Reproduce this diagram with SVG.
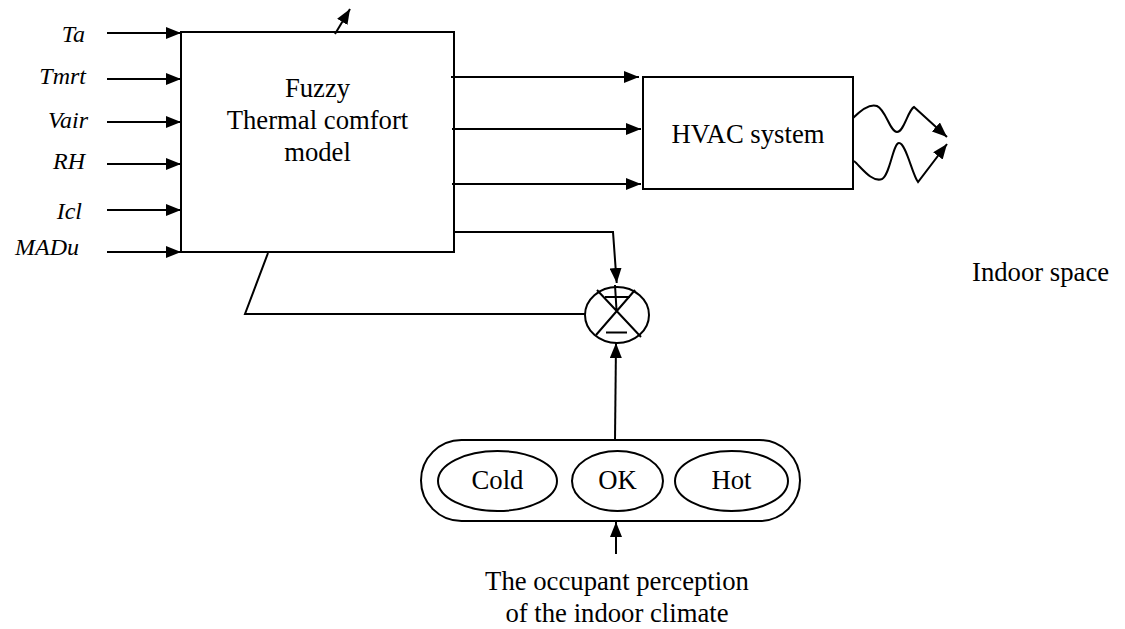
<svg xmlns="http://www.w3.org/2000/svg" width="1125" height="629" viewBox="0 0 1125 629">
<defs>
<marker id="ah" markerUnits="userSpaceOnUse" markerWidth="16" markerHeight="12" refX="15" refY="6" orient="auto">
<path d="M0,0 L15,6 L0,12 z" fill="#000"/>
</marker>
<style>
.ln{fill:none;stroke:#000;stroke-width:2}
.box{fill:#fff;stroke:#000;stroke-width:2}
.t{font-family:"Liberation Serif","Times New Roman",serif;font-size:26.7px;fill:#000}
.it{font-family:"Liberation Serif","Times New Roman",serif;font-size:24px;font-style:italic;fill:#000}
</style>
</defs>
<rect width="1125" height="629" fill="#fff"/>
<g id="inputs">
<text class="it" x="85" y="42" text-anchor="end">Ta</text>
<text class="it" x="86" y="84" text-anchor="end">Tmrt</text>
<text class="it" x="88" y="128" text-anchor="end">Vair</text>
<text class="it" x="85" y="169" text-anchor="end">RH</text>
<text class="it" x="82" y="219" text-anchor="end">Icl</text>
<text class="it" x="79" y="255" text-anchor="end">MADu</text>
</g>
<g id="fuzzy-model">
<rect class="box" x="181" y="32" width="273" height="220"/>
<text class="t" x="317.5" y="97" text-anchor="middle">Fuzzy</text>
<text class="t" x="317.5" y="129" text-anchor="middle">Thermal comfort</text>
<text class="t" x="317.5" y="161" text-anchor="middle">model</text>
</g>
<g id="hvac">
<rect class="box" x="643" y="77" width="210" height="112"/>
<text class="t" x="748" y="143" text-anchor="middle">HVAC system</text>
</g>
<g id="comparator">
<ellipse class="ln" cx="617" cy="315" rx="32" ry="28"/>
<path class="ln" d="M597,290 L641,337 M635,290 L596,335 M605,297 L630,297 M606,332.5 L627,332.5 M615,285 L616.5,310"/>
</g>
<g id="perception">
<rect class="box" x="421" y="440" width="379" height="81" rx="40.5" ry="40.5"/>
<ellipse class="ln" cx="497.5" cy="481" rx="59.5" ry="30"/>
<ellipse class="ln" cx="617.5" cy="481" rx="45.5" ry="30"/>
<ellipse class="ln" cx="731.5" cy="481" rx="56.5" ry="30"/>
<text class="t" x="497.5" y="489" text-anchor="middle">Cold</text>
<text class="t" x="617.5" y="489" text-anchor="middle">OK</text>
<text class="t" x="731.5" y="489" text-anchor="middle">Hot</text>
</g>
<g id="labels">
<text class="t" x="972" y="281">Indoor space</text>
<text class="t" x="617" y="590" text-anchor="middle">The occupant perception</text>
<text class="t" x="617" y="622" text-anchor="middle">of the indoor climate</text>
</g>
<g id="connectors">
<line class="ln" x1="107" y1="33" x2="181" y2="33" marker-end="url(#ah)"/>
<line class="ln" x1="107" y1="79" x2="181" y2="79" marker-end="url(#ah)"/>
<line class="ln" x1="107" y1="122" x2="181" y2="122" marker-end="url(#ah)"/>
<line class="ln" x1="107" y1="164" x2="181" y2="164" marker-end="url(#ah)"/>
<line class="ln" x1="107" y1="210" x2="181" y2="210" marker-end="url(#ah)"/>
<line class="ln" x1="107" y1="252" x2="181" y2="252" marker-end="url(#ah)"/>
<line class="ln" x1="335" y1="34" x2="350" y2="9" marker-end="url(#ah)"/>
<line class="ln" x1="451" y1="77" x2="639" y2="77" marker-end="url(#ah)"/>
<line class="ln" x1="452" y1="129" x2="641" y2="129" marker-end="url(#ah)"/>
<line class="ln" x1="452" y1="184" x2="641" y2="184" marker-end="url(#ah)"/>
<path class="ln" d="M454,232 L613,232 L616.7,283" marker-end="url(#ah)"/>
<path class="ln" d="M268,253 L245,314 L585,314"/>
<line class="ln" x1="615" y1="440" x2="616" y2="343" marker-end="url(#ah)"/>
<line class="ln" x1="616" y1="554" x2="616" y2="522" marker-end="url(#ah)"/>
<path class="ln" d="M853,118 C860,111 869,103 877,106 C886,110 890,132 897,132 C904,132 908,110 914,107 L947,137" marker-end="url(#ah)"/>
<path class="ln" d="M854,161 C861,167 872,183 882,179 C890,175 893,143 899,143 C906,143 912,174 918,182 L947,144" marker-end="url(#ah)"/>
</g>
</svg>
